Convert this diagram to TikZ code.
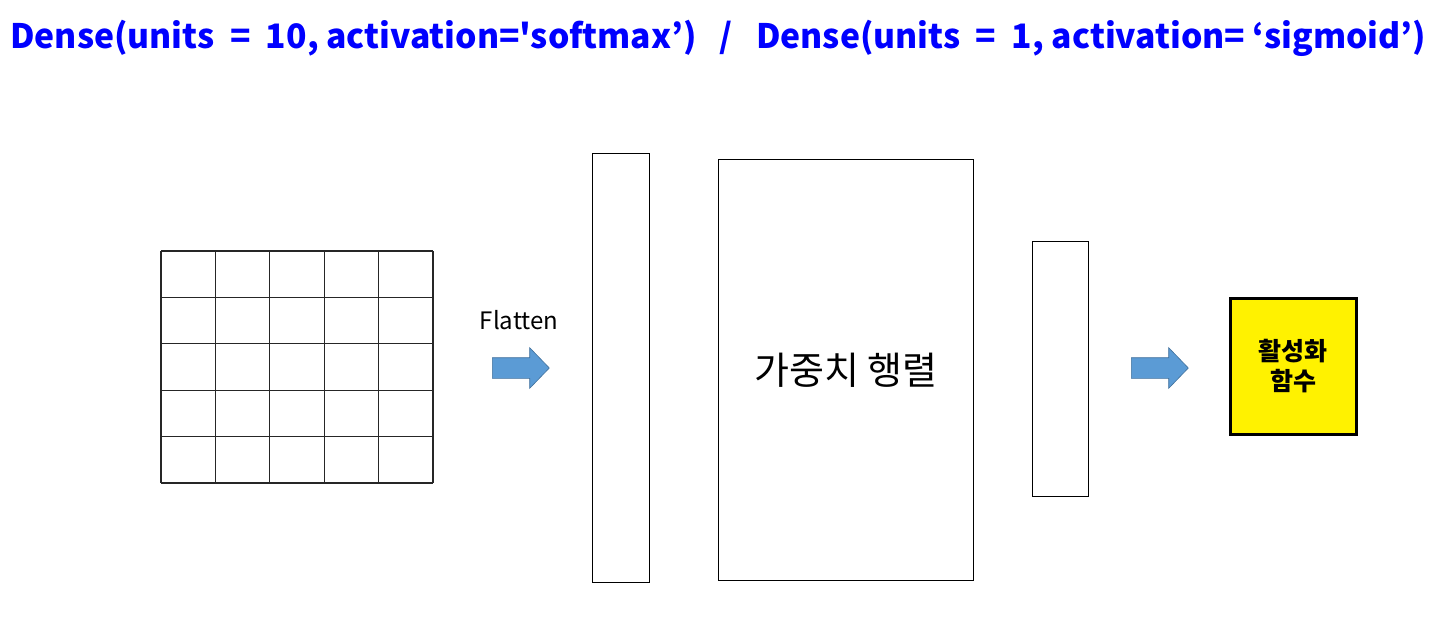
\documentclass[tikz,border=0pt]{standalone}
\usepackage{fontspec}
\setmainfont{Noto Sans CJK KR}
\newfontfamily\krfont{Noto Sans CJK KR}
\usetikzlibrary{shapes.arrows,calc}
\definecolor{arrowblue}{HTML}{5B9BD5}
\definecolor{arrowedge}{HTML}{41719C}
\tikzset{
  box/.style={draw=black, line width=1.2pt, inner sep=0pt, fill=white},
  gridline/.style={line width=1.3pt, black!85},
  blockarrow/.style={single arrow, fill=arrowblue, draw=arrowedge, line width=0.6pt,
    minimum height=57pt, inner sep=10pt, single arrow head extend=10pt,
    single arrow tip angle=92, anchor=tail},
}
\begin{document}
\begin{tikzpicture}[x=1pt,y=-1pt]
\useasboundingbox (0,0) rectangle (1454,619);
\fill[white] (0,0) rectangle (1454,619);
% title
\node[anchor=west, text=blue, font=\krfont\bfseries\fontsize{33.7}{40}\selectfont, inner sep=0pt] (title) at (10,38)
  {Dense(units~~=~~10,~activation='softmax’)~~~/~~~Dense(units~~=~~1,~activation=~‘sigmoid’)};
% grid
\node[minimum width=272pt, minimum height=232pt, anchor=north west, inner sep=0pt] (grid) at (161,251) {};
\foreach \i in {0,...,5} {
  \draw[gridline] ($(grid.north west)+(54.4*\i,0)$) -- ($(grid.south west)+(54.4*\i,0)$);
  \draw[gridline] ($(grid.north west)+(0,46.4*\i)$) -- ($(grid.north east)+(0,46.4*\i)$);
}
% flatten
\node[font=\krfont\fontsize{24}{28}\selectfont] (flat) at (519,320) {Flatten};
\node[blockarrow] (arr1) at (492,368) {};
% rectangles
\node[box, minimum width=57pt, minimum height=429pt, anchor=north west] (col1) at (592,153) {};
\node[box, minimum width=255pt, minimum height=421pt, anchor=north west, font=\krfont\fontsize{38}{44}\selectfont] (mat) at (718,159) {가중치 행렬};
\node[box, minimum width=56pt, minimum height=255pt, anchor=north west] (col2) at (1032,241) {};
\node[blockarrow] (arr2) at (1131,368) {};
\node[draw=black, line width=2.8pt, fill=yellow, minimum width=126pt, minimum height=136pt, anchor=north west, inner sep=0pt,
  align=center, font=\krfont\bfseries\fontsize{25}{30}\selectfont] (act) at (1229,297) {활성화\\함수};
\end{tikzpicture}
\end{document}
